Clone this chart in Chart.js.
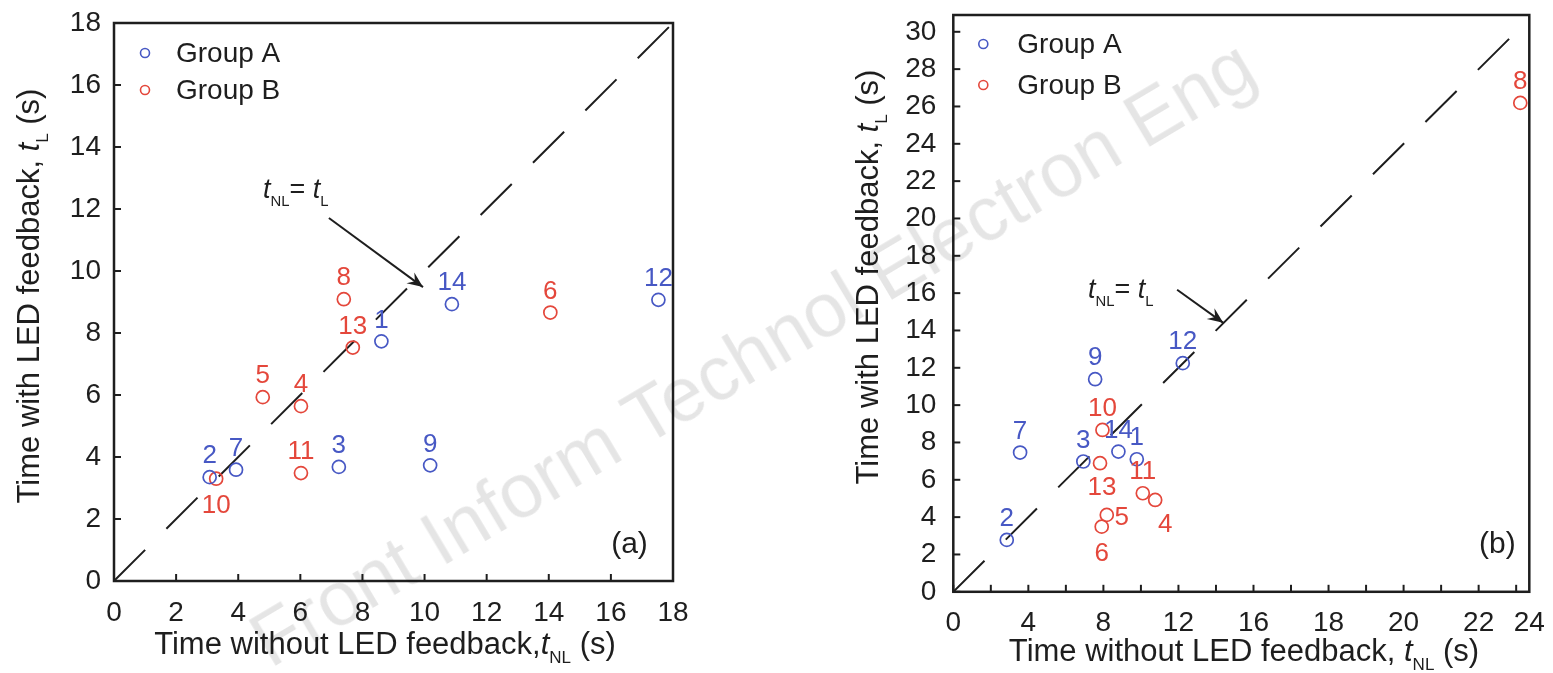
<!DOCTYPE html>
<html lang="en">
<head>
<meta charset="UTF-8">
<title>Time with and without LED feedback</title>
<style>
  body { margin: 0; background: #fff; }
  #wrap { position: relative; width: 1553px; height: 673px; overflow: hidden; }
  #boxA { position: absolute; left: 0; top: 0; width: 720px; height: 673px; }
  #boxB { position: absolute; left: 740px; top: 0; width: 813px; height: 673px; }
  #mark {
    position: absolute; left: 752px; top: 352px;
    transform: translate(-50%, -50%) rotate(-30.7deg);
    font: 76px 'Liberation Sans', Arial, sans-serif;
    color: rgba(0, 0, 0, 0.1); white-space: nowrap; pointer-events: none;
  }
</style>
<script src="https://cdn.jsdelivr.net/npm/chart.js@4"></script>
</head>
<body>
<div id="wrap">
  <div id="boxA"><canvas id="chartA" width="720" height="673"></canvas></div>
  <div id="boxB"><canvas id="chartB" width="813" height="673"></canvas></div>
  <div id="mark">Front Inform Technol Electron Eng</div>
</div>
<script>
// ---- panel (a) data ----
const aGroupAIds = ['2', '7', '3', '1', '14', '9', '12'];
const aGroupAX = [3.08, 3.93, 7.24, 8.61, 10.88, 10.18, 17.53];
const aGroupAY = [3.35, 3.59, 3.68, 7.73, 8.93, 3.73, 9.07];
const aGroupBIds = ['10', '5', '4', '11', '8', '13', '6'];
const aGroupBX = [3.29, 4.79, 6.02, 6.02, 7.40, 7.69, 14.05];
const aGroupBY = [3.30, 5.93, 5.64, 3.48, 9.09, 7.53, 8.66];
const aTickValues = [0, 2, 4, 6, 8, 10, 12, 14, 16, 18];

// ---- panel (b) data ----
const bGroupAIds = ['2', '7', '3', '9', '14', '1', '12'];
const bGroupAX = [2.85, 3.56, 6.93, 7.56, 8.80, 9.78, 12.23];
const bGroupAY = [2.78, 7.46, 6.98, 11.39, 7.51, 7.10, 12.25];
const bGroupBIds = ['6', '5', '13', '10', '11', '4', '8'];
const bGroupBX = [7.91, 8.18, 7.82, 7.95, 10.10, 10.76, 30.22];
const bGroupBY = [3.49, 4.12, 6.89, 8.67, 5.28, 4.92, 26.19];
const bYTickValues = [0, 2, 4, 6, 8, 10, 12, 14, 16, 18, 20, 22, 24, 26, 28, 30];
// the printed x labels of panel (b) are not evenly numbered, kept as in the figure
const bXTickValues = [0, 4, 8, 12, 16, 20, 24, 28, 30.7];
const bXTickLabels = ['0', '4', '8', '12', '16', '18', '20', '22', '24'];

const seriesNames = ['Group A', 'Group B'];

const FONT = "'Liberation Sans', Arial, sans-serif";
const INK = '#1e1e1e';
const BLUE = '#4758c4';
const RED = '#e4473b';

// where a point number sits relative to its circle (px), default above
const labelShift = {
  a: { '10': [0, 27] },
  b: { '13': [2, 25], '4': [10, 25], '5': [15, 3], '6': [0, 27] }
};

const toPoints = (xs, ys) => xs.map((x, i) => ({ x, y: ys[i] }));

// draw text made of pieces (italic t, subscripts)
function richWidth(ctx, parts, size) {
  let w = 0;
  parts.forEach(p => {
    const s = p.sub ? size * 0.55 : size;
    ctx.font = (p.italic ? 'italic ' : '') + s + 'px ' + FONT;
    w += ctx.measureText(p.t).width;
  });
  return w;
}
function drawRich(ctx, parts, x, y, size) {
  parts.forEach(p => {
    const s = p.sub ? size * 0.55 : size;
    ctx.font = (p.italic ? 'italic ' : '') + s + 'px ' + FONT;
    ctx.fillText(p.t, x, y + (p.sub ? size * 0.3 : 0));
    x += ctx.measureText(p.t).width;
  });
}

function arrow(ctx, x1, y1, x2, y2) {
  const ang = Math.atan2(y2 - y1, x2 - x1);
  ctx.beginPath();
  ctx.moveTo(x1, y1);
  ctx.lineTo(x2, y2);
  ctx.stroke();
  ctx.beginPath();
  ctx.moveTo(x2, y2);
  ctx.lineTo(x2 - 17 * Math.cos(ang - 0.4), y2 - 17 * Math.sin(ang - 0.4));
  ctx.lineTo(x2 - 10 * Math.cos(ang), y2 - 10 * Math.sin(ang));
  ctx.lineTo(x2 - 17 * Math.cos(ang + 0.4), y2 - 17 * Math.sin(ang + 0.4));
  ctx.closePath();
  ctx.fill();
}

// frame and inward ticks
const framePlugin = {
  id: 'frame',
  beforeDatasetsDraw(chart, args, opts) {
    const { ctx, chartArea: a, scales } = chart;
    ctx.save();
    ctx.strokeStyle = INK;
    ctx.lineWidth = 2.5;
    ctx.strokeRect(a.left, a.top, a.right - a.left, a.bottom - a.top);
    ctx.lineWidth = 2;
    for (let v = scales.x.min; v <= scales.x.max + 1e-6; v += opts.step) {
      const px = scales.x.getPixelForValue(v);
      ctx.beginPath(); ctx.moveTo(px, a.bottom); ctx.lineTo(px, a.bottom - 7); ctx.stroke();
    }
    for (let v = scales.y.min; v <= scales.y.max + 1e-6; v += opts.step) {
      const py = scales.y.getPixelForValue(v);
      ctx.beginPath(); ctx.moveTo(a.left, py); ctx.lineTo(a.left + 7, py); ctx.stroke();
    }
    ctx.restore();
  }
};

// point numbers, legend, titles, annotation
const textPlugin = {
  id: 'texts',
  afterDatasetsDraw(chart, args, opts) {
    const { ctx, chartArea: a, scales } = chart;
    const sx = scales.x, sy = scales.y;
    ctx.save();

    // point numbers
    chart.data.datasets.forEach((ds, di) => {
      if (!ds.ids) return;
      const meta = chart.getDatasetMeta(di);
      ctx.fillStyle = ds.borderColor;
      ctx.font = '26px ' + FONT;
      ctx.textAlign = 'center';
      ctx.textBaseline = 'middle';
      meta.data.forEach((el, i) => {
        const id = ds.ids[i];
        const sh = (labelShift[opts.panel][id] && ds.shiftable) ? labelShift[opts.panel][id] : [0, -21];
        ctx.fillText(id, el.x + sh[0], el.y + sh[1]);
      });
    });

    // legend inside the plot
    const L = opts.legend;
    chart.data.datasets.filter(d => d.ids).forEach((ds, i) => {
      const y = a.top + L.y0 + i * L.dy;
      ctx.strokeStyle = ds.borderColor;
      ctx.lineWidth = 1.6;
      ctx.beginPath();
      ctx.arc(a.left + L.x, y, 4.5, 0, Math.PI * 2);
      ctx.stroke();
      ctx.fillStyle = INK;
      ctx.font = '28px ' + FONT;
      ctx.textAlign = 'left';
      ctx.textBaseline = 'middle';
      ctx.fillText(ds.label, a.left + L.textX, y + 1);
    });

    ctx.fillStyle = INK;
    ctx.strokeStyle = INK;
    ctx.textBaseline = 'alphabetic';
    ctx.textAlign = 'left';

    // x title
    const xt = opts.xTitle;
    const xw = richWidth(ctx, xt, 31);
    drawRich(ctx, xt, opts.xTitlePos[0] - xw / 2, opts.xTitlePos[1], 31);

    // y title, rotated
    const yt = [{ t: 'Time with LED feedback, ' }, { t: 't', italic: true }, { t: 'L', sub: true }, { t: ' (s)' }];
    const yw = richWidth(ctx, yt, 31);
    ctx.save();
    ctx.translate(opts.yTitlePos[0], opts.yTitlePos[1]);
    ctx.rotate(-Math.PI / 2);
    drawRich(ctx, yt, -yw / 2, 0, 31);
    ctx.restore();

    // t_NL = t_L with arrow
    const an = opts.note;
    const eq = [{ t: 't', italic: true }, { t: 'NL', sub: true }, { t: '= ' }, { t: 't', italic: true }, { t: 'L', sub: true }];
    drawRich(ctx, eq, sx.getPixelForValue(an.text[0]), sy.getPixelForValue(an.text[1]), 27);
    ctx.lineWidth = 2;
    arrow(ctx, sx.getPixelForValue(an.from[0]), sy.getPixelForValue(an.from[1]),
      sx.getPixelForValue(an.to[0]), sy.getPixelForValue(an.to[1]));

    // panel letter
    ctx.font = '30px ' + FONT;
    ctx.textAlign = 'center';
    ctx.textBaseline = 'middle';
    ctx.fillText(opts.tag, sx.getPixelForValue(an.tagAt[0]), sy.getPixelForValue(an.tagAt[1]));
    ctx.restore();
  }
};

function makeChart(id, cfg) {
  const datasets = [
    {
      label: seriesNames[0], ids: cfg.aIds, shiftable: false,
      data: toPoints(cfg.aX, cfg.aY),
      borderColor: BLUE, backgroundColor: 'rgba(0,0,0,0)',
      pointRadius: 6.5, borderWidth: 1.7, showLine: false, order: 1
    },
    {
      label: seriesNames[1], ids: cfg.bIds, shiftable: true,
      data: toPoints(cfg.bX, cfg.bY),
      borderColor: RED, backgroundColor: 'rgba(0,0,0,0)',
      pointRadius: 6.5, borderWidth: 1.7, showLine: false, order: 1
    },
    {
      label: 'tNL = tL', type: 'line',
      data: [{ x: 0, y: 0 }, { x: cfg.yMax, y: cfg.yMax }],
      borderColor: INK, borderWidth: 2, borderDash: [44, 30],
      pointRadius: 0, order: 2
    }
  ];
  const tickFont = { family: FONT, size: 28 };
  return new Chart(document.getElementById(id), {
    type: 'scatter',
    data: { datasets },
    options: {
      responsive: false,
      animation: false,
      layout: { padding: cfg.padding },
      scales: {
        x: {
          type: 'linear', min: 0, max: cfg.xMax,
          grid: { display: false, drawTicks: false }, border: { display: false },
          afterBuildTicks: s => { s.ticks = cfg.xTicks.map(v => ({ value: v })); },
          afterFit: s => { s.height = cfg.xAxisH; s.paddingLeft = 0; s.paddingRight = 0; },
          ticks: {
            font: tickFont, color: INK, padding: 15, maxRotation: 0, autoSkip: false,
            callback: (v, i) => cfg.xLabels[i]
          }
        },
        y: {
          type: 'linear', min: 0, max: cfg.yMax,
          grid: { display: false, drawTicks: false }, border: { display: false },
          afterBuildTicks: s => { s.ticks = cfg.yTicks.map(v => ({ value: v })); },
          afterFit: s => { s.width = cfg.yAxisW; s.paddingTop = 0; s.paddingBottom = 0; },
          ticks: { font: tickFont, color: INK, padding: cfg.yPad, autoSkip: false, callback: v => String(v) }
        }
      },
      plugins: {
        legend: { display: false },
        tooltip: { enabled: false },
        frame: { step: 2 },
        texts: cfg.texts
      }
    },
    plugins: [framePlugin, textPlugin]
  });
}

makeChart('chartA', {
  aIds: aGroupAIds, aX: aGroupAX, aY: aGroupAY,
  bIds: aGroupBIds, bX: aGroupBX, bY: aGroupBY,
  xMax: 18, yMax: 18,
  xTicks: aTickValues, xLabels: aTickValues.map(String), yTicks: aTickValues,
  padding: { left: 0, right: 47, top: 23, bottom: 0 },
  xAxisH: 92, yAxisW: 114, yPad: 13,
  texts: {
    panel: 'a', tag: '(a)',
    legend: { x: 31, textX: 62, y0: 30, dy: 37 },
    xTitle: [{ t: 'Time without LED feedback,' }, { t: 't', italic: true }, { t: 'NL', sub: true }, { t: ' (s)' }],
    xTitlePos: [385, 654],
    yTitlePos: [39, 296],
    note: { text: [4.8, 12.35], from: [6.92, 11.71], to: [9.95, 9.48], tagAt: [16.6, 1.16] }
  }
});

makeChart('chartB', {
  aIds: bGroupAIds, aX: bGroupAX, aY: bGroupAY,
  bIds: bGroupBIds, bX: bGroupBX, bY: bGroupBY,
  xMax: 30.7, yMax: 30.9,
  xTicks: bXTickValues, xLabels: bXTickLabels, yTicks: bYTickValues,
  padding: { left: 0, right: 23.7, top: 15, bottom: 0 },
  xAxisH: 81.2, yAxisW: 213.3, yPad: 17,
  texts: {
    panel: 'b', tag: '(b)',
    legend: { x: 30, textX: 64, y0: 29, dy: 41 },
    xTitle: [{ t: 'Time without LED feedback, ' }, { t: 't', italic: true }, { t: 'NL', sub: true }, { t: ' (s)' }],
    xTitlePos: [504, 661],
    yTitlePos: [138, 277],
    note: { text: [7.18, 15.75], from: [11.93, 16.18], to: [14.39, 14.41], tagAt: [29.0, 2.5] }
  }
});
</script>
</body>
</html>
